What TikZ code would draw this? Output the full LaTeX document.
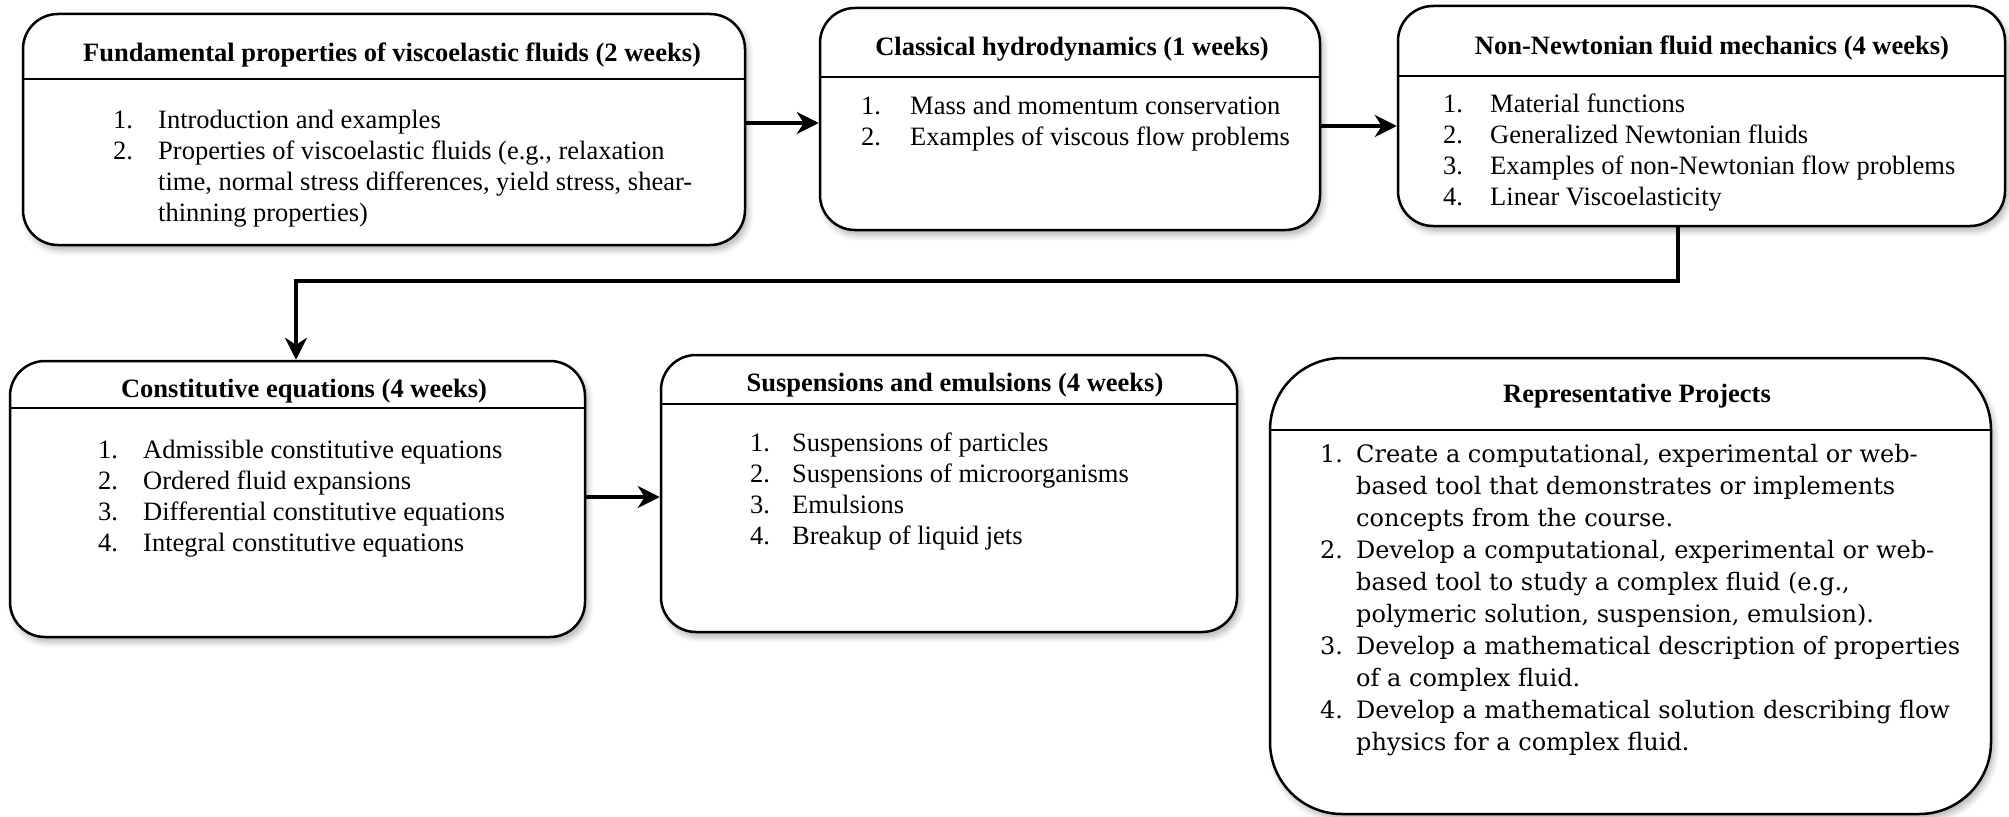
\documentclass[tikz,border=0pt]{standalone}
\usepackage{fontspec}
\setmainfont{Liberation Serif}
\newfontfamily\projfont{DejaVu Serif}
\usetikzlibrary{arrows.meta,shadows.blur}
\tikzset{
  box/.style={draw, line width=2.5pt, fill=white, inner sep=0pt,
    blur shadow={shadow xshift=3pt, shadow yshift=-5pt, shadow blur radius=6pt, shadow blur steps=6, shadow opacity=30}},
  hline/.style={line width=2.5pt},
  head/.style={font=\fontsize{26.5}{31}\selectfont\bfseries, inner sep=0pt},
  items/.style={anchor=base west, inner sep=0pt, font=\fontsize{26.5}{31}\selectfont},
  pitems/.style={anchor=base west, inner sep=0pt, font=\projfont\fontsize{24}{32}\selectfont},
  conn/.style={line width=4pt, -{Stealth[length=22pt,width=22pt,inset=7pt]}},
}
\begin{document}
\begin{tikzpicture}[x=1pt,y=-1pt]
\useasboundingbox (0,0) rectangle (2009,816);

% boxes
\node[box, rounded corners=35pt, minimum width=722pt, minimum height=231pt] (b1) at (384,129.5) {};
\node[box, rounded corners=35pt, minimum width=500pt, minimum height=222pt] (b2) at (1070,119) {};
\node[box, rounded corners=35pt, minimum width=607pt, minimum height=220pt] (b3) at (1701.5,116) {};
\node[box, rounded corners=35pt, minimum width=575pt, minimum height=276pt] (b4) at (297.5,499) {};
\node[box, rounded corners=35pt, minimum width=576pt, minimum height=277pt] (b5) at (949,493.5) {};
\node[box, rounded corners=72pt, minimum width=721pt, minimum height=456pt] (b6) at (1630.5,586) {};

% header separators
\coordinate (h1) at (0,79);
\coordinate (h2) at (0,77);
\coordinate (h3) at (0,76);
\coordinate (h4) at (0,408);
\coordinate (h5) at (0,404);
\coordinate (h6) at (0,430);
\draw[hline] (b1.west |- h1) -- (b1.east |- h1);
\draw[hline] (b2.west |- h2) -- (b2.east |- h2);
\draw[hline] (b3.west |- h3) -- (b3.east |- h3);
\draw[hline] (b4.west |- h4) -- (b4.east |- h4);
\draw[hline] (b5.west |- h5) -- (b5.east |- h5);
\draw[hline] (b6.west |- h6) -- (b6.east |- h6);

% headers
\node[head] (t1) at (392,55) {Fundamental properties of viscoelastic fluids (2 weeks)};
\node[head] (t2) at (1072,49) {Classical hydrodynamics (1 weeks)};
\node[head] (t3) at (1712,48) {Non-Newtonian fluid mechanics (4 weeks)};
\node[head] (t4) at (304,391) {Constitutive equations (4 weeks)};
\node[head] (t5) at (955,385) {Suspensions and emulsions (4 weeks)};
\node[head] (t6) at (1637,396) {Representative Projects};

% item lists
\node[items] (l1) at (113,128) {\begin{tabular}[t]{@{}p{45pt}@{}l@{}}
1. & Introduction and examples\\
2. & Properties of viscoelastic fluids (e.g., relaxation\\
   & time, normal stress differences, yield stress, shear-\\
   & thinning properties)
\end{tabular}};
\node[items] (l2) at (861,114) {\begin{tabular}[t]{@{}p{49pt}@{}l@{}}
1. & Mass and momentum conservation\\
2. & Examples of viscous flow problems
\end{tabular}};
\node[items] (l3) at (1443,112) {\begin{tabular}[t]{@{}p{47pt}@{}l@{}}
1. & Material functions\\
2. & Generalized Newtonian fluids\\
3. & Examples of non-Newtonian flow problems\\
4. & Linear Viscoelasticity
\end{tabular}};
\node[items] (l4) at (98,458) {\begin{tabular}[t]{@{}p{45pt}@{}l@{}}
1. & Admissible constitutive equations\\
2. & Ordered fluid expansions\\
3. & Differential constitutive equations\\
4. & Integral constitutive equations
\end{tabular}};
\node[items] (l5) at (750,451) {\begin{tabular}[t]{@{}p{42pt}@{}l@{}}
1. & Suspensions of particles\\
2. & Suspensions of microorganisms\\
3. & Emulsions\\
4. & Breakup of liquid jets
\end{tabular}};
\node[pitems] (l6) at (1320,462) {\begin{tabular}[t]{@{}p{36pt}@{}l@{}}
1. & Create a computational, experimental or web-\\
   & based tool that demonstrates or implements\\
   & concepts from the course.\\
2. & Develop a computational, experimental or web-\\
   & based tool to study a complex fluid (e.g.,\\
   & polymeric solution, suspension, emulsion).\\
3. & Develop a mathematical description of properties\\
   & of a complex fluid.\\
4. & Develop a mathematical solution describing flow\\
   & physics for a complex fluid.
\end{tabular}};

% connectors
\coordinate (a12) at (0,123);
\coordinate (a23) at (0,126);
\coordinate (a45) at (0,497);
\coordinate (k1) at (1678,281);
\coordinate (k2) at (296,281);
\draw[conn] (b1.east |- a12) -- (b2.west |- a12);
\draw[conn] (b2.east |- a23) -- (b3.west |- a23);
\draw[conn] (b4.east |- a45) -- (b5.west |- a45);
\draw[conn] (b3.south -| k1) -- (k1) -- (k2) -- (b4.north -| k2);
\end{tikzpicture}
\end{document}
